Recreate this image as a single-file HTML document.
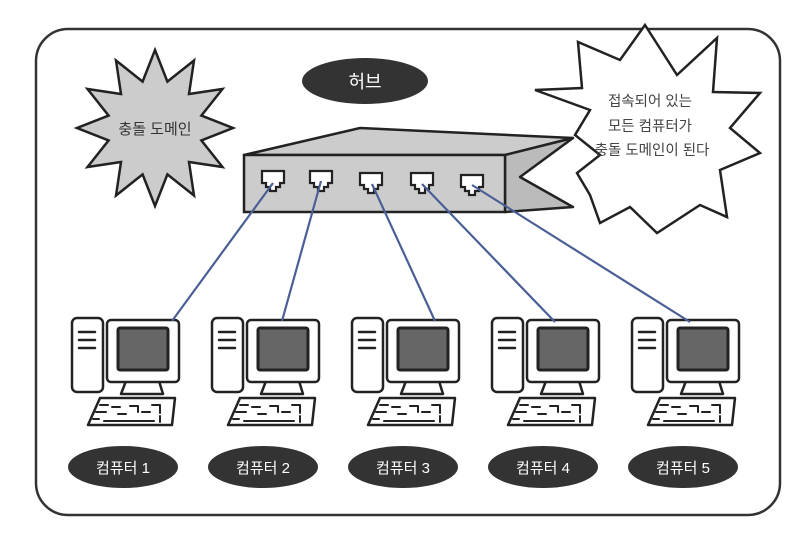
<!DOCTYPE html>
<html><head><meta charset="utf-8"><style>
html,body{margin:0;padding:0;background:#fff}
svg{display:block}
text{font-family:"Liberation Sans","Noto Sans CJK KR",sans-serif}
</style></head><body>
<svg width="812" height="544" viewBox="0 0 812 544" xmlns="http://www.w3.org/2000/svg">
<defs>
<g id="pc" stroke="#222" stroke-width="2.5" stroke-linejoin="round" stroke-linecap="round">
  <rect x="72" y="318" width="31" height="74" rx="5" fill="#fff"/>
  <line x1="79" y1="332" x2="95" y2="332"/><line x1="79" y1="340" x2="95" y2="340"/><line x1="79" y1="348" x2="95" y2="348"/>
  <polygon points="126,381 159,381 163,394 121,394" fill="#fff"/>
  <rect x="107" y="320" width="72" height="62" rx="4" fill="#fff"/>
  <rect x="118" y="328" width="50" height="42" rx="2" fill="#666" stroke-width="3"/>
  <polygon points="100,398 175,398 172,425 88,425" fill="#fff"/>
  <path d="M100,405 h8 M96,412 h10 M93,419 h6 M112,407 h8 M118,414 h8 M130,406 h8 v6 M142,412 h8 M152,405 h8 v8 M160,416 v6 M104,421 h50" fill="none" stroke-width="2"/>
  <ellipse cx="123" cy="467" rx="55" ry="21" fill="#333" stroke="none"/>
</g>
</defs>
<rect x="36" y="29" width="744" height="486" rx="32" fill="#fff" stroke="#333" stroke-width="2.5"/>

<!-- left burst -->
<polygon points="155,50 167.4,81.6 194,60.5 189,94 222.5,89 201.4,115.6 233,128 201.4,140.4 222.5,167 189,162 194,195.5 167.4,174.4 155,206 142.6,174.4 116,195.5 121,162 87.5,167 108.6,140.4 77,128 108.6,115.6 87.5,89 121,94 116,60.5 142.6,81.6" fill="#ccc" stroke="#222" stroke-width="2.5" stroke-linejoin="miter"/>
<text x="155" y="134" font-size="15" text-anchor="middle" fill="#333">충돌 도메인</text>

<!-- hub label -->
<ellipse cx="365" cy="81" rx="63" ry="23" fill="#333"/>
<text x="365" y="88" font-size="18" text-anchor="middle" fill="#fff">허브</text>

<!-- right burst -->
<polygon points="645,25 677,75 717,38 713,92 760,93 730,128 760,153 720,170 727,217 700,205 657,233 630,207 600,223 590,195 577,173 600,155 575,135 590,110 535,90 582,88 578,42 620,60" fill="#fff" stroke="#222" stroke-width="2.5"/>

<!-- hub -->
<polygon points="244,155 360,128 573,138 505,155" fill="#ccc" stroke="#222" stroke-width="2.5" stroke-linejoin="round"/>
<polygon points="505,155 573,138 520,177 573,207 505,212" fill="#bbb" stroke="#222" stroke-width="2.5" stroke-linejoin="round"/>
<rect x="244" y="155" width="261" height="57" fill="#ccc" stroke="#222" stroke-width="2.5"/>
<g fill="#fff" stroke="#222" stroke-width="2.2">
  <path d="M262,171 h22 v12 h-4 v4 h-4 v4 h-6 v-4 h-4 v-4 h-4z"/>
  <path d="M310,171 h22 v12 h-4 v4 h-4 v4 h-6 v-4 h-4 v-4 h-4z"/>
  <path d="M360,173 h22 v12 h-4 v4 h-4 v4 h-6 v-4 h-4 v-4 h-4z"/>
  <path d="M411,173 h22 v12 h-4 v4 h-4 v4 h-6 v-4 h-4 v-4 h-4z"/>
  <path d="M461,175 h22 v12 h-4 v4 h-4 v4 h-6 v-4 h-4 v-4 h-4z"/>
</g>
<text font-size="14.5" text-anchor="middle" fill="#444">
  <tspan x="652" y="106">접속되어 있는</tspan>
  <tspan x="652" y="131">모든 컴퓨터가</tspan>
  <tspan x="652" y="155">충돌 도메인이 된다</tspan>
</text>

<!-- computers -->
<use href="#pc"/>
<use href="#pc" transform="translate(140,0)"/>
<use href="#pc" transform="translate(280,0)"/>
<use href="#pc" transform="translate(420,0)"/>
<use href="#pc" transform="translate(560,0)"/>

<!-- cables -->
<g stroke="#4a5f96" stroke-width="2.2" fill="none">
  <line x1="273" y1="183" x2="172" y2="321"/>
  <line x1="321" y1="181" x2="282" y2="321"/>
  <line x1="372" y1="184" x2="435" y2="321"/>
  <line x1="422" y1="184" x2="555" y2="322"/>
  <line x1="472" y1="185" x2="690" y2="322"/>
</g>

<g font-size="15" text-anchor="middle" fill="#fff">
  <text x="123" y="473">컴퓨터 1</text>
  <text x="263" y="473">컴퓨터 2</text>
  <text x="403" y="473">컴퓨터 3</text>
  <text x="543" y="473">컴퓨터 4</text>
  <text x="683" y="473">컴퓨터 5</text>
</g>
</svg>
</body></html>
